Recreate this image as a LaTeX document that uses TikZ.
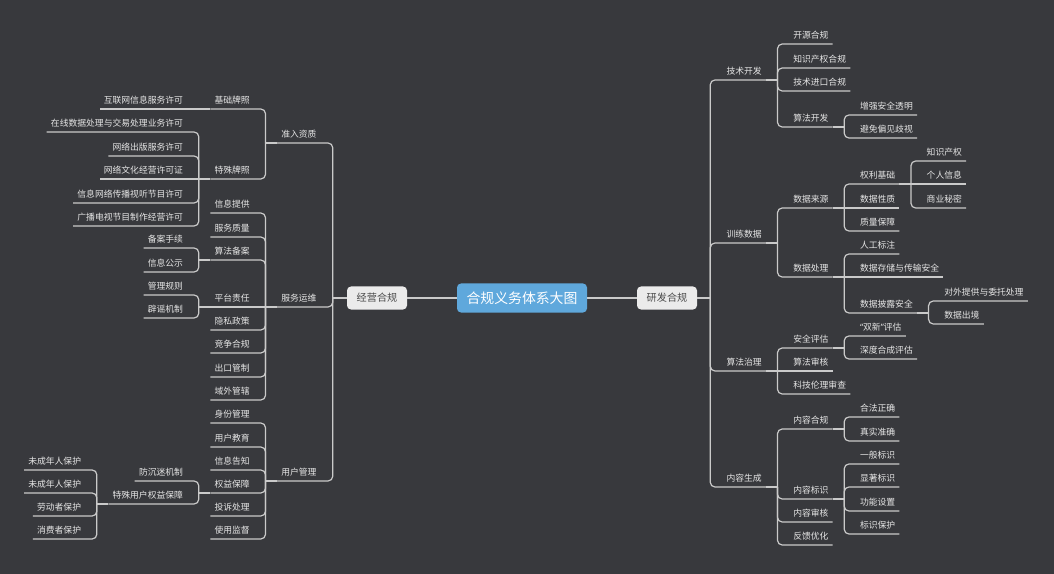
\documentclass[tikz,border=0pt]{standalone}
\usepackage{fontspec}
\newfontfamily\cjk{Noto Sans CJK SC}
\newfontfamily\qf{Noto Sans}
\usetikzlibrary{calc}
\definecolor{bgc}{HTML}{38393D}
\definecolor{linec}{HTML}{CACACA}
\definecolor{txtc}{HTML}{E6E6E6}
\definecolor{rootc}{HTML}{5FA8DC}
\definecolor{boxc}{HTML}{EBEBEB}
\definecolor{boxt}{HTML}{4A4A4A}
\tikzset{
  lbl/.style={font=\cjk\fontsize{6.6}{8}\selectfont, text=txtc, inner xsep=3pt, inner ysep=2.9pt, text height=5.8pt, text depth=1pt},
  conn/.style={draw=linec, line width=0.9pt, rounded corners=3.5pt},
  rootbox/.style={fill=rootc, text=white, rounded corners=3pt, minimum width=97.5pt, minimum height=21.75pt, inner sep=0pt, font=\cjk\fontsize{10.4}{12}\selectfont},
  mainbox/.style={fill=boxc, text=boxt, rounded corners=3pt, minimum width=45pt, minimum height=17.25pt, inner sep=0pt, font=\cjk\fontsize{7.6}{9}\selectfont}
}
% left-side helpers
\newcommand\mmLa[4]{\node[lbl,anchor=south east] (#1) at ($(#2.west |- 0,#3)+(-26,0)$) {#4};
  \draw[conn] ($(#2.west)+(-14,0)$) |- (#1.south west);}
\newcommand\mmL[4]{\node[lbl,anchor=south east] (#1) at ($(#2.south west |- 0,#3)+(-23,0)$) {#4};
  \draw[conn] ($(#2.south west)+(-11.5,0)$) |- (#1.south west);}
\newcommand\mmLs[3]{\node[lbl,anchor=south east] (#1) at ($(#2.south west)+(-23,0)$) {#3};
  \draw[conn] ($(#2.south west)+(-11.5,0)$) -- (#1.south west);}
\newcommand\stL[1]{\draw[conn] (#1.south west) -- ++(-11.5,0);}
% right-side helpers
\newcommand\mmRa[4]{\node[lbl,anchor=south west] (#1) at ($(#2.east |- 0,#3)+(25,0)$) {#4};
  \draw[conn] ($(#2.east)+(13,0)$) |- (#1.south east);}
\newcommand\mmR[4]{\node[lbl,anchor=south west] (#1) at ($(#2.south east |- 0,#3)+(23,0)$) {#4};
  \draw[conn] ($(#2.south east)+(11.5,0)$) |- (#1.south east);}
\newcommand\mmRs[3]{\node[lbl,anchor=south west] (#1) at ($(#2.south east)+(23,0)$) {#3};
  \draw[conn] ($(#2.south east)+(11.5,0)$) -- (#1.south east);}
\newcommand\stR[1]{\draw[conn] (#1.south east) -- ++(11.5,0);}
\begin{document}
\begin{tikzpicture}[x=0.75pt,y=-0.75pt]
\fill[bgc] (0,0) rectangle (1054,574);
\useasboundingbox (0,0) rectangle (1054,574);

\node[rootbox] (root) at (522,298) {合规义务体系大图};
\node[mainbox] (jy) at (377,298) {经营合规};
\node[mainbox] (yf) at (667,298) {研发合规};
\draw[conn] (jy.east) -- (root.west);
\draw[conn] (root.east) -- (yf.west);

% ---------------- left side
\draw[conn] (jy.west) -- ++(-14,0);
\mmLa{zr}{jy}{143}{准入资质}
\mmLa{fw}{jy}{307}{服务运维}
\mmLa{yh}{jy}{481}{用户管理}

\stL{zr}
\mmL{jc}{zr}{109}{基础牌照}
\mmL{ts}{zr}{179}{特殊牌照}
\stL{jc}
\mmLs{hl}{jc}{互联网信息服务许可}
\stL{ts}
\mmL{zx}{ts}{132}{在线数据处理与交易处理业务许可}
\mmL{wc}{ts}{156}{网络出版服务许可}
\mmLs{wh}{ts}{网络文化经营许可证}
\mmL{xx}{ts}{203}{信息网络传播视听节目许可}
\mmL{gb}{ts}{226}{广播电视节目制作经营许可}

\stL{fw}
\mmL{xt}{fw}{213}{信息提供}
\mmL{fz}{fw}{237}{服务质量}
\mmL{sb}{fw}{260}{算法备案}
\mmLs{pt}{fw}{平台责任}
\mmL{ys}{fw}{330}{隐私政策}
\mmL{jz}{fw}{353}{竞争合规}
\mmL{ck}{fw}{377}{出口管制}
\mmL{yw}{fw}{400}{域外管辖}
\stL{sb}
\mmL{ba}{sb}{248}{备案手续}
\mmL{xg}{sb}{272}{信息公示}
\stL{pt}
\mmL{gl}{pt}{295}{管理规则}
\mmL{py}{pt}{318}{辟谣机制}

\stL{yh}
\mmL{sf}{yh}{423}{身份管理}
\mmL{yj}{yh}{447}{用户教育}
\mmL{xz}{yh}{470}{信息告知}
\mmL{qy}{yh}{493}{权益保障}
\mmL{tc}{yh}{516}{投诉处理}
\mmL{sj}{yh}{539}{使用监督}
\stL{qy}
\mmL{fc}{qy}{481}{防沉迷机制}
\mmL{tq}{qy}{504}{特殊用户权益保障}
\stL{tq}
\mmL{wa}{tq}{470}{未成年人保护}
\mmL{wb}{tq}{493}{未成年人保护}
\mmL{ld}{tq}{516}{劳动者保护}
\mmL{xf}{tq}{539}{消费者保护}

% ---------------- right side
\draw[conn] (yf.east) -- ++(13,0);
\mmRa{js}{yf}{80}{技术开发}
\mmRa{xl}{yf}{243}{训练数据}
\mmRa{sz}{yf}{371}{算法治理}
\mmRa{nr}{yf}{487}{内容生成}

\stR{js}
\mmR{ky}{js}{44}{开源合规}
\mmR{zc}{js}{68}{知识产权合规}
\mmR{jk}{js}{91}{技术进口合规}
\mmR{sk}{js}{127}{算法开发}
\stR{sk}
\mmR{zq}{sk}{115}{增强安全透明}
\mmR{bm}{sk}{138}{避免偏见歧视}

\stR{xl}
\mmR{ly}{xl}{208}{数据来源}
\mmR{cl}{xl}{277}{数据处理}
\stR{ly}
\mmR{ql}{ly}{184}{权利基础}
\mmRs{xzz}{ly}{数据性质}
\mmR{zl}{ly}{231}{质量保障}
\stR{ql}
\mmR{zs}{ql}{161}{知识产权}
\mmRs{gr}{ql}{个人信息}
\mmR{sm}{ql}{208}{商业秘密}
\stR{cl}
\mmR{rg}{cl}{254}{人工标注}
\mmRs{cc}{cl}{数据存储与传输安全}
\mmR{pl}{cl}{313}{数据披露安全}
\stR{pl}
\mmR{dw}{pl}{301}{对外提供与委托处理}
\mmR{cj}{pl}{324}{数据出境}

\stR{sz}
\mmR{aq}{sz}{348}{安全评估}
\mmRs{sh}{sz}{算法审核}
\mmR{kj}{sz}{394}{科技伦理审查}
\stR{aq}
\mmR{sx}{aq}{336}{{\qf “}双新{\qf ”}评估}
\mmR{sd}{aq}{359}{深度合成评估}

\stR{nr}
\mmR{ng}{nr}{429}{内容合规}
\mmR{bs}{nr}{499}{内容标识}
\mmR{nsh}{nr}{522}{内容审核}
\mmR{fk}{nr}{545}{反馈优化}
\stR{ng}
\mmR{hf}{ng}{417}{合法正确}
\mmR{zz}{ng}{441}{真实准确}
\stR{bs}
\mmR{yb}{bs}{464}{一般标识}
\mmR{xb}{bs}{487}{显著标识}
\mmR{gn}{bs}{511}{功能设置}
\mmR{bh}{bs}{534}{标识保护}
\end{tikzpicture}
\end{document}
